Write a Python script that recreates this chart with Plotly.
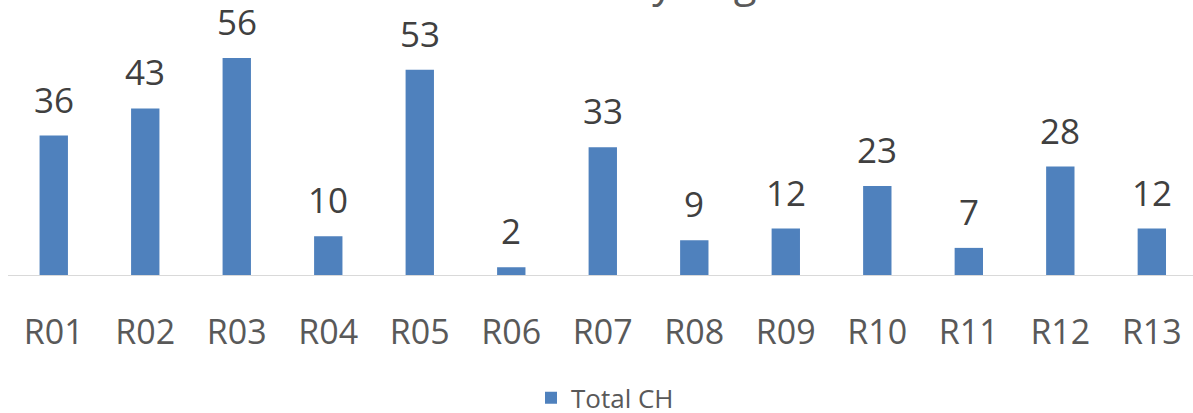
import plotly.graph_objects as go

categories = ["R01", "R02", "R03", "R04", "R05", "R06", "R07", "R08", "R09", "R10", "R11", "R12", "R13"]
values = [36, 43, 56, 10, 53, 2, 33, 9, 12, 23, 7, 28, 12]
series_name = "Total CH"
title_text = "Total CH by Region"

bar_color = "#4f81bd"
fig = go.Figure()
fig.add_trace(go.Bar(
    x=categories, y=values, name=series_name,
    marker=dict(color=bar_color, line=dict(width=0)),
    width=0.31,
))

for c, v in zip(categories, values):
    fig.add_annotation(x=c, y=v, text=str(v), showarrow=False,
                       xref="x", yref="y", yanchor="bottom", yshift=11,
                       font=dict(family="Open Sans", size=35, color="#404040"))

fig.add_annotation(x=(634 - 8) / 1185, y=1.0, xref="paper", yref="paper", text=title_text,
                   showarrow=False, yanchor="bottom", xanchor="center", yshift=-11,
                   font=dict(family="Open Sans", size=42, color="#595959"))

fig.update_layout(
    width=1193, height=413,
    margin=dict(l=8, r=0, t=0, b=138, autoexpand=False),
    plot_bgcolor="white", paper_bgcolor="white",
    showlegend=True,
    legend=dict(x=(605 - 8) / 1185, y=-0.447, xanchor="center", yanchor="middle",
                orientation="h", font=dict(family="Open Sans", size=26, color="#595959")),
    xaxis=dict(range=[-0.5, 12.45], showline=True, linecolor="#d9d9d9", linewidth=1,
               showgrid=False, ticks="", ticklabelstandoff=27, automargin=False,
               tickfont=dict(family="Open Sans", size=34, color="#595959")),
    yaxis=dict(range=[0, 71], visible=False, showgrid=False, zeroline=False, automargin=False),
)

fig.write_html("out.html", config={"displayModeBar": False},
               post_script="document.body.style.margin='0';document.body.style.overflow='hidden';")
